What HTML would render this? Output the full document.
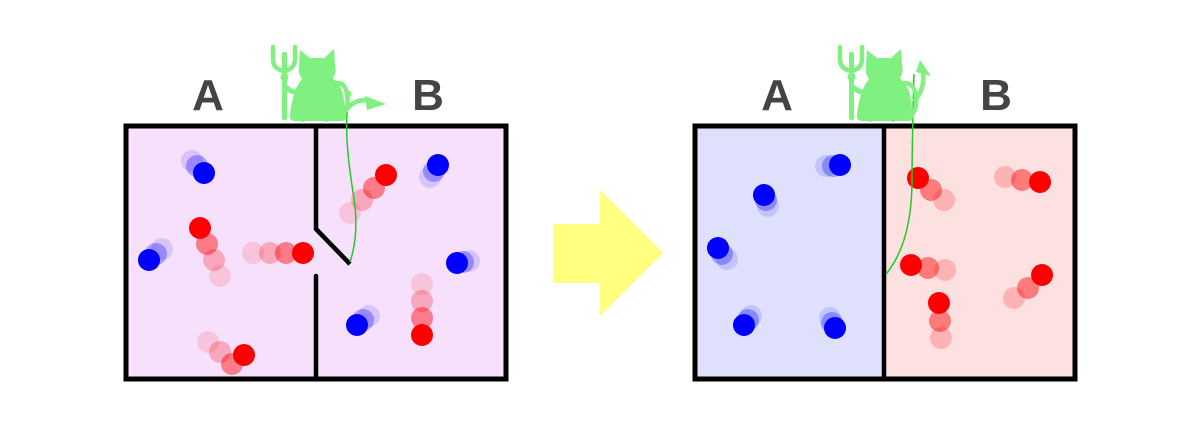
<!DOCTYPE html>
<html><head><style>body{margin:0;background:#fff}svg{display:block}</style></head><body>
<svg width="1200" height="442" viewBox="0 0 1200 442" xmlns="http://www.w3.org/2000/svg">
<defs>
<g id="cat" fill="#80f080" stroke="none">
  <!-- trident -->
  <rect x="282" y="52" width="5" height="68" rx="2"/>
  <path d="M273 47 v12 q0 10 11 12 q11 -2 11 -12 v-12" fill="none" stroke="#80f080" stroke-width="4.5" stroke-linecap="round"/>
  <circle cx="284.5" cy="77" r="4"/>
  <path d="M286 87 q8 8 16 4" fill="none" stroke="#80f080" stroke-width="5" stroke-linecap="round"/>
  <!-- head & ears -->
  <path d="M300 50 l10 8 h14 l10 -9 l1 16 q3 12 -8 18 h-20 q-10 -6 -8 -18 z"/>
  <!-- body -->
  <path d="M306 76 h24 q12 8 14 24 q2 14 2 17 q0 4 -6 4 h-44 q-6 0 -6 -4 q0 -8 3 -19 q4 -16 13 -22z"/>
  <circle cx="303" cy="119" r="3"/><circle cx="326" cy="119" r="3"/>
</g>
</defs>

<!-- Left panel -->
<rect x="126" y="126" width="380" height="253" fill="#f6e0fb"/>
<!-- balls left -->
<g>
 <circle cx="192" cy="161" r="11" fill="#0000ff" opacity=".12"/><circle cx="197" cy="166" r="11" fill="#0000ff" opacity=".3"/><circle cx="204" cy="173" r="11" fill="#0000ff"/>
 <circle cx="162" cy="249" r="11" fill="#0000ff" opacity=".12"/><circle cx="156" cy="254" r="11" fill="#0000ff" opacity=".3"/><circle cx="149" cy="260" r="11" fill="#0000ff"/>
 <circle cx="220" cy="276" r="11" fill="#ff0000" opacity=".12"/><circle cx="214" cy="260" r="11" fill="#ff0000" opacity=".25"/><circle cx="207" cy="244" r="11" fill="#ff0000" opacity=".45"/><circle cx="200" cy="228" r="11" fill="#ff0000"/>
 <circle cx="253" cy="253" r="11" fill="#ff0000" opacity=".12"/><circle cx="270" cy="253" r="11" fill="#ff0000" opacity=".25"/><circle cx="286" cy="253" r="11" fill="#ff0000" opacity=".45"/><circle cx="303" cy="253" r="11" fill="#ff0000"/>
 <circle cx="208" cy="342" r="11" fill="#ff0000" opacity=".12"/><circle cx="220" cy="352" r="11" fill="#ff0000" opacity=".25"/><circle cx="232" cy="364" r="11" fill="#ff0000" opacity=".45"/><circle cx="244" cy="355" r="11" fill="#ff0000"/>
 <circle cx="350" cy="213" r="11" fill="#ff0000" opacity=".12"/><circle cx="362" cy="200" r="11" fill="#ff0000" opacity=".25"/><circle cx="374" cy="188" r="11" fill="#ff0000" opacity=".45"/><circle cx="386" cy="175" r="11" fill="#ff0000"/>
 <circle cx="430" cy="177" r="11" fill="#0000ff" opacity=".12"/><circle cx="434" cy="171" r="11" fill="#0000ff" opacity=".3"/><circle cx="438" cy="165" r="11" fill="#0000ff"/>
 <circle cx="469" cy="261" r="11" fill="#0000ff" opacity=".12"/><circle cx="463" cy="262" r="11" fill="#0000ff" opacity=".3"/><circle cx="457" cy="263" r="11" fill="#0000ff"/>
 <circle cx="369" cy="316" r="11" fill="#0000ff" opacity=".12"/><circle cx="363" cy="320" r="11" fill="#0000ff" opacity=".3"/><circle cx="357" cy="325" r="11" fill="#0000ff"/>
 <circle cx="422" cy="284" r="11" fill="#ff0000" opacity=".12"/><circle cx="422" cy="301" r="11" fill="#ff0000" opacity=".25"/><circle cx="422" cy="318" r="11" fill="#ff0000" opacity=".45"/><circle cx="422" cy="335" r="11" fill="#ff0000"/>
</g>
<rect x="126" y="126" width="380" height="253" fill="none" stroke="#000" stroke-width="5"/>
<polyline points="316,126 316,229 350,264" fill="none" stroke="#000" stroke-width="4.5" stroke-linejoin="round"/>
<line x1="316" y1="276" x2="316" y2="379" stroke="#000" stroke-width="4.5" stroke-linecap="round"/>
<path d="M350 262 q10 -30 3 -70 q-8 -50 -6 -80" fill="none" stroke="#22cc22" stroke-width="1.5"/>
<use href="#cat"/>
<path d="M333 84 q12 -4 14 10 q2 12 -2 16 M346 110 q12 -14 26 -8" fill="none" stroke="#80f080" stroke-width="4.5" stroke-linecap="round"/>
<circle cx="348" cy="94" r="3.5" fill="#80f080"/>
<polygon points="365,96 386,104 367,110" fill="#80f080"/>
<text x="208" y="110" font-family="Liberation Sans, sans-serif" font-weight="bold" font-size="44" fill="#444" text-anchor="middle">A</text>
<text x="428" y="110" font-family="Liberation Sans, sans-serif" font-weight="bold" font-size="44" fill="#444" text-anchor="middle">B</text>

<!-- Arrow -->
<polygon points="553,224 600,224 600,190 663,253 600,316 600,283 553,283" fill="#ffff80"/>

<!-- Right panel -->
<rect x="695" y="126" width="189" height="253" fill="#dfe0fb"/>
<rect x="884" y="126" width="191" height="253" fill="#fde0e0"/>
<g>
 <circle cx="826" cy="166" r="11" fill="#0000ff" opacity=".12"/><circle cx="833" cy="166" r="11" fill="#0000ff" opacity=".3"/><circle cx="840" cy="165" r="11" fill="#0000ff"/>
 <circle cx="768" cy="206" r="11" fill="#0000ff" opacity=".12"/><circle cx="766" cy="200" r="11" fill="#0000ff" opacity=".3"/><circle cx="764" cy="195" r="11" fill="#0000ff"/>
 <circle cx="727" cy="259" r="11" fill="#0000ff" opacity=".12"/><circle cx="722" cy="254" r="11" fill="#0000ff" opacity=".3"/><circle cx="718" cy="248" r="11" fill="#0000ff"/>
 <circle cx="751" cy="316" r="11" fill="#0000ff" opacity=".12"/><circle cx="748" cy="320" r="11" fill="#0000ff" opacity=".3"/><circle cx="744" cy="325" r="11" fill="#0000ff"/>
 <circle cx="830" cy="318" r="11" fill="#0000ff" opacity=".12"/><circle cx="832" cy="323" r="11" fill="#0000ff" opacity=".3"/><circle cx="835" cy="328" r="11" fill="#0000ff"/>
 <circle cx="944" cy="200" r="11" fill="#ff0000" opacity=".2"/><circle cx="931" cy="190" r="11" fill="#ff0000" opacity=".45"/><circle cx="918" cy="178" r="11" fill="#ff0000"/>
 <circle cx="1005" cy="177" r="11" fill="#ff0000" opacity=".2"/><circle cx="1022" cy="180" r="11" fill="#ff0000" opacity=".45"/><circle cx="1040" cy="182" r="11" fill="#ff0000"/>
 <circle cx="945" cy="270" r="11" fill="#ff0000" opacity=".2"/><circle cx="928" cy="268" r="11" fill="#ff0000" opacity=".45"/><circle cx="911" cy="265" r="11" fill="#ff0000"/>
 <circle cx="1014" cy="298" r="11" fill="#ff0000" opacity=".2"/><circle cx="1028" cy="288" r="11" fill="#ff0000" opacity=".45"/><circle cx="1042" cy="275" r="11" fill="#ff0000"/>
 <circle cx="941" cy="338" r="11" fill="#ff0000" opacity=".2"/><circle cx="940" cy="321" r="11" fill="#ff0000" opacity=".45"/><circle cx="939" cy="303" r="11" fill="#ff0000"/>
</g>
<rect x="695" y="126" width="380" height="253" fill="none" stroke="#000" stroke-width="5"/>
<line x1="884" y1="126" x2="884" y2="379" stroke="#000" stroke-width="4.5"/>
<path d="M886 274 q25 -30 26 -90 q0 -40 2 -110" fill="none" stroke="#22cc22" stroke-width="1.5"/>
<g transform="translate(567,0)"><use href="#cat"/></g>
<path d="M900 84 q14 -4 16 12 q1 14 -4 18 M915 100 q10 -10 8 -30" fill="none" stroke="#80f080" stroke-width="4.5" stroke-linecap="round"/>
<polygon points="916,72 920,60 931,76" fill="#80f080"/>
<text x="777" y="110" font-family="Liberation Sans, sans-serif" font-weight="bold" font-size="44" fill="#444" text-anchor="middle">A</text>
<text x="996" y="110" font-family="Liberation Sans, sans-serif" font-weight="bold" font-size="44" fill="#444" text-anchor="middle">B</text>
</svg>
</body></html>
